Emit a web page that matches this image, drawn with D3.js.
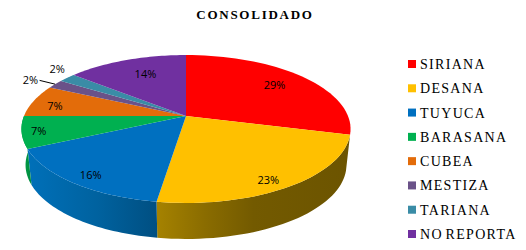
<!DOCTYPE html>
<html>
<head>
<meta charset="utf-8">
<script src="https://cdnjs.cloudflare.com/ajax/libs/d3/7.8.5/d3.min.js"></script>
<style>
    body {margin:0; background:#fff;}
    svg {display:block;}
</style>
</head>
<body>
<div class="canvas"></div>
<script>
//data
const categories = ['SIRIANA', 'DESANA', 'TUYUCA', 'BARASANA', 'CUBEA', 'MESTIZA', 'TARIANA', 'NO REPORTA'];
const values = [29, 23.4, 15.6, 7, 7, 2, 2, 14]; //labels are these rounded
const colours = ['#ff0000', '#ffc000', '#0070c0', '#00b050', '#e36c0a', '#6a5288', '#3a8ca6', '#7030a0'];

const dims = {height:250, width:526}

const svg = d3.select('.canvas')
    .append('svg')
    .attr('width', dims.width)
    .attr('height', dims.height)

//pie lies flat and is seen in perspective, so unit circle -> screen goes through this
const persp = {cx:186, apexY:116, k:162, a:51.3, c:-0.1757}
const depth = 36
const shrink = 0.975 //bottom rim is a bit narrower

const project = (angle, r) => {
    const u = Math.sin(angle) * r
    const v = -Math.cos(angle) * r
    const w = 1 + persp.c * v
    return [persp.cx + persp.k * u / w, (persp.a * v + persp.apexY) / w]
}
const projectBottom = (angle) => {
    const [x, y] = project(angle, 1)
    return [persp.cx + (x - persp.cx) * shrink, y + depth]
}

const pie = d3.pie().sort(null).value(d => d)
const slices = pie(values)

const line = d3.line()

//sample points along rim
const rim = (d, fn) => d3.range(0, 1.0001, 1 / 40)
    .map(t => fn(d.startAngle + (d.endAngle - d.startAngle) * t))

//side gradients, only the three front slices show a side
const sideShades = {
    1: {x1:157, x2:350, stops:[[0, '#a58200'], [0.25, '#8a6c00'], [0.5, '#735a00'], [1, '#6c5400']]},
    2: {x1:22, x2:160, stops:[[0, '#0071bb'], [0.55, '#00629f'], [1, '#004e80']]},
    3: {x1:22, x2:32, stops:[[0, '#00a048'], [1, '#008a3e']]}
}

const defs = svg.append('defs')
Object.keys(sideShades).forEach(i => {
    const s = sideShades[i]
    const grad = defs.append('linearGradient')
        .attr('id', 'side' + i)
        .attr('gradientUnits', 'userSpaceOnUse')
        .attr('x1', s.x1).attr('x2', s.x2)
        .attr('y1', 0).attr('y2', 0)
    s.stops.forEach(st => grad.append('stop').attr('offset', st[0]).attr('stop-color', st[1]))
})

const graph = svg.append('g')

//sides first, tops go over them
graph.selectAll('.side')
    .data(slices.filter(d => sideShades[d.index]))
    .enter()
    .append('path')
    .attr('class', 'side')
    .attr('fill', d => `url(#side${d.index})`)
    .attr('d', d => line(rim(d, a => project(a, 1)).concat(rim(d, projectBottom).reverse())) + 'Z')

graph.selectAll('.top')
    .data(slices)
    .enter()
    .append('path')
    .attr('class', 'top')
    .attr('fill', d => colours[d.index])
    .attr('d', d => line([project(0, 0)].concat(rim(d, a => project(a, 1)))) + 'Z')

//percent labels, radius as a fraction of the pie, plus a small nudge in px
const labelRadius = [0.72, 0.88, 0.88, 0.9, 0.85, 1.2, 1.15, 0.72]
const labelNudge = [[3, -2], [-8, 3], [2, 1], [0, 0], [-1, 2], [-1, 1], [6, -4], [4, -1]]
const midAngle = d => (d.startAngle + d.endAngle) / 2

graph.selectAll('.pct')
    .data(slices)
    .enter()
    .append('text')
    .attr('class', 'pct')
    .attr('text-anchor', 'middle')
    .attr('dominant-baseline', 'central')
    .attr('font-family', '"Open Sans", sans-serif')
    .attr('font-size', 11)
    .attr('fill', '#000')
    .attr('x', d => project(midAngle(d), labelRadius[d.index])[0] + labelNudge[d.index][0])
    .attr('y', d => project(midAngle(d), labelRadius[d.index])[1] + labelNudge[d.index][1])
    .text(d => Math.round(d.value) + '%')

//leader for the small MESTIZA label
graph.append('path')
    .attr('fill', 'none')
    .attr('stroke', '#000')
    .attr('stroke-width', 1)
    .attr('d', line([project(midAngle(slices[5]), 1), project(midAngle(slices[5]), 1.13)]))

//title
svg.append('text')
    .attr('x', 255)
    .attr('y', 19)
    .attr('text-anchor', 'middle')
    .attr('font-family', '"Liberation Serif", serif')
    .attr('font-weight', 'bold')
    .attr('font-size', 13)
    .attr('letter-spacing', 1.75)
    .text('CONSOLIDADO')

//legend
const legendY = d3.scalePoint()
    .domain(categories)
    .range([64, 234])

const legend = svg.selectAll('.legend')
    .data(categories)
    .enter()
    .append('g')
    .attr('class', 'legend')
    .attr('transform', d => `translate(408,${legendY(d)})`)

legend.append('rect')
    .attr('y', -4)
    .attr('width', 8)
    .attr('height', 8)
    .attr('fill', (d, i) => colours[i])

legend.append('text')
    .attr('x', 12)
    .attr('y', 5)
    .attr('font-family', '"Liberation Serif", serif')
    .attr('font-size', 14)
    .attr('letter-spacing', 1.3)
    .attr('word-spacing', -2)
    .text(d => d)
</script>
</body>
</html>
